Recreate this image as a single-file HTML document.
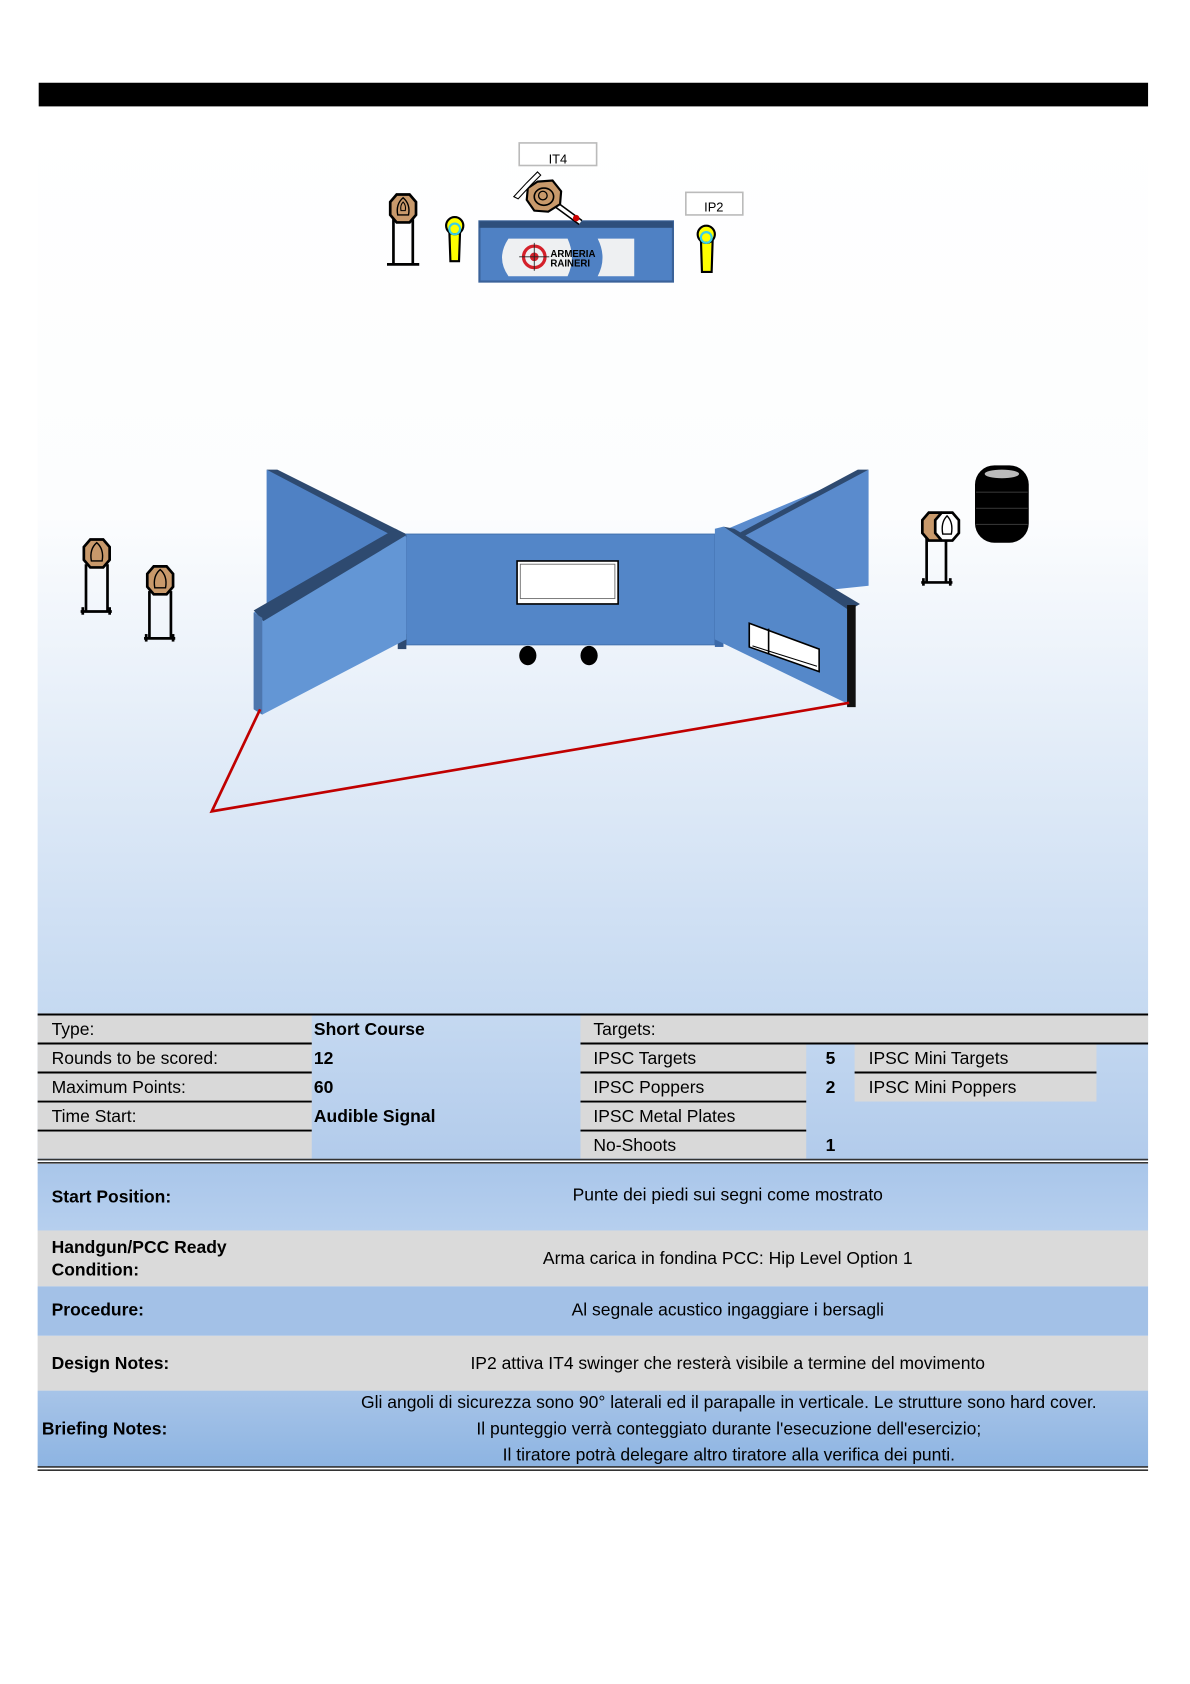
<!DOCTYPE html>
<html><head><meta charset="utf-8"><style>
html,body{margin:0;padding:0;background:#fff}
svg{display:block}
text{font-family:"Liberation Sans",Arial,sans-serif;fill:#000}
</style></head><body>
<svg width="1190" height="1684" viewBox="0 0 1107 1567" preserveAspectRatio="none" xmlns="http://www.w3.org/2000/svg">
<defs>
<linearGradient id="bg" x1="0" y1="0" x2="0" y2="1">
<stop offset="0" stop-color="#ffffff"/><stop offset="0.45" stop-color="#fcfdfe"/><stop offset="1" stop-color="#c5d9f1"/>
</linearGradient>
<linearGradient id="tb" x1="0" y1="0" x2="0" y2="1">
<stop offset="0" stop-color="#c5d9f1"/><stop offset="1" stop-color="#b2cbeb"/>
</linearGradient>
<linearGradient id="br" x1="0" y1="0" x2="0" y2="1">
<stop offset="0" stop-color="#a7c4e8"/><stop offset="1" stop-color="#8db4e2"/>
</linearGradient>
<linearGradient id="bl1" x1="0" y1="0" x2="0" y2="1">
<stop offset="0" stop-color="#a9c6ea"/><stop offset="1" stop-color="#b6cfee"/>
</linearGradient>
</defs>

<rect x="36" y="77" width="1032" height="22" fill="#000"/>

<rect x="35" y="100" width="1033" height="843" fill="url(#bg)"/>

<rect x="446" y="206" width="180" height="56" fill="#4f81c4" stroke="#3a6299" stroke-width="2"/>
<rect x="446" y="206" width="180" height="6" fill="#2e4f7c"/>
<path d="M473 222 H528 Q536 240 528 257 H473 Q461 240 473 222Z" fill="#eef0f2"/>
<path d="M556 222 H590 V257 H556 Q565 240 556 222Z" fill="#eef0f2"/>
<circle cx="497" cy="239" r="10" fill="none" stroke="#d4202a" stroke-width="3"/>
<circle cx="497" cy="239" r="4" fill="#d4202a"/>
<line x1="483" y1="239" x2="511" y2="239" stroke="#222" stroke-width="0.8"/>
<line x1="497" y1="226" x2="497" y2="252" stroke="#222" stroke-width="0.8"/>
<text x="512" y="239" font-size="9" font-weight="bold" fill="#333">ARMERIA</text>
<text x="512" y="248" font-size="9" font-weight="bold" fill="#333">RAINERI</text>

<rect x="483" y="133" width="72" height="21" fill="#fff" stroke="#bbb" stroke-width="1.5"/>
<text x="519" y="152" font-size="12" text-anchor="middle">IT4</text>
<line x1="510" y1="185" x2="540" y2="207" stroke="#000" stroke-width="6"/>
<line x1="510" y1="185" x2="540" y2="207" stroke="#fff" stroke-width="3"/>
<circle cx="536" cy="203" r="3" fill="#c00"/>
<polygon points="500,169 514,168 522,178 521,190 510,197 497,196 490,186 491,175" fill="#c8996b" stroke="#000" stroke-width="2"/>
<ellipse cx="506" cy="183" rx="9" ry="8" fill="none" stroke="#000" stroke-width="1.5"/>
<ellipse cx="505" cy="182" rx="4" ry="4" fill="none" stroke="#000" stroke-width="1.2"/>
<path d="M478 183 L490 170 L500 160 L503 163 L494 172 L482 185Z" fill="#fff" stroke="#000" stroke-width="1"/>

<rect x="638" y="179" width="53" height="21" fill="#fff" stroke="#bbb" stroke-width="1.5"/>
<text x="664" y="197" font-size="12" text-anchor="middle">IP2</text>

<g stroke="#000" stroke-width="2">
<path d="M418 215 L428 215 L427 243 L419 243Z" fill="#ffff00"/>
<circle cx="423" cy="210" r="8" fill="#ffff00"/>
<circle cx="423" cy="213" r="5" fill="none" stroke="#3ccfe8"/>
<path d="M652 222 L663 222 L662 253 L653 253Z" fill="#ffff00"/>
<circle cx="657" cy="218" r="8" fill="#ffff00"/>
<circle cx="657" cy="221" r="5" fill="none" stroke="#3ccfe8"/>
</g>

<g stroke="#000" stroke-width="2.5" fill="none">
<line x1="366" y1="204" x2="366" y2="246"/><line x1="384" y1="204" x2="384" y2="246"/>
<line x1="360" y1="246" x2="390" y2="246"/>
<polygon points="369,181 381,181 387,188 387,200 381,207 369,207 363,200 363,188" fill="#c8996b"/>
<path d="M370 200 Q368 190 375 184 Q382 190 380 200Z" stroke-width="1.3"/>
<path d="M373 196 Q372 191 375 188 Q378 191 377 196Z" stroke-width="1"/>
</g>

<g stroke="#000" stroke-width="2.5" fill="none">
<g transform="translate(90,515)">
<line x1="-10" y1="10" x2="-10" y2="54"/><line x1="10" y1="10" x2="10" y2="54"/>
<line x1="-15" y1="54" x2="14" y2="54"/><line x1="-13" y1="50" x2="-13" y2="57"/><line x1="12" y1="50" x2="12" y2="57"/>
<polygon points="-6,-13 6,-13 12,-6 12,6 6,13 -6,13 -12,6 -12,-6" fill="#c8996b"/>
<path d="M-5 7 Q-7 -4 0 -10 Q7 -4 5 7Z" stroke-width="1.3"/>
</g>
<g transform="translate(149,540)">
<line x1="-10" y1="10" x2="-10" y2="54"/><line x1="10" y1="10" x2="10" y2="54"/>
<line x1="-15" y1="54" x2="14" y2="54"/><line x1="-13" y1="50" x2="-13" y2="57"/><line x1="12" y1="50" x2="12" y2="57"/>
<polygon points="-6,-13 6,-13 12,-6 12,6 6,13 -6,13 -12,6 -12,-6" fill="#c8996b"/>
<path d="M-5 7 Q-7 -4 0 -10 Q7 -4 5 7Z" stroke-width="1.3"/>
</g>
<g transform="translate(872,490)">
<line x1="-10" y1="10" x2="-10" y2="52"/><line x1="8" y1="10" x2="8" y2="52"/>
<line x1="-15" y1="52" x2="14" y2="52"/><line x1="-13" y1="48" x2="-13" y2="55"/><line x1="12" y1="48" x2="12" y2="55"/>
<polygon points="-8,-13 3,-13 9,-6 9,6 3,13 -8,13 -14,6 -14,-6" fill="#c8996b"/>
<polygon points="4,-13 14,-13 20,-6 20,6 14,13 4,13 -2,6 -2,-6" fill="#fff"/>
<path d="M5 7 Q3 -4 9 -10 Q15 -4 13 7Z" stroke-width="1.3"/>
</g>
</g>

<rect x="907" y="433" width="50" height="72" rx="18" fill="#000"/>
<ellipse cx="932" cy="441" rx="16" ry="4" fill="#bbb"/>
<g stroke="#333" stroke-width="1"><line x1="908" y1="458" x2="956" y2="458"/><line x1="908" y1="473" x2="956" y2="473"/><line x1="908" y1="488" x2="956" y2="488"/></g>

<polygon points="248,437 378,497 378,560 248,620" fill="#4f81c4"/>
<polygon points="248,437 258,437 378,497 368,500" fill="#2e4a70"/>
<polygon points="808,437 665,497 665,560 808,545" fill="#5a8bcd"/>
<polygon points="798,437 808,437 690,500 680,500" fill="#2e4a70"/>
<rect x="378" y="497" width="287" height="103" fill="#5386c8" stroke="#4473b0" stroke-width="1"/>
<rect x="481" y="522" width="94" height="40" fill="#fff" stroke="#000" stroke-width="1.5"/>
<rect x="484" y="525" width="88" height="32" fill="#fff" stroke="#666" stroke-width="0.8"/>
<ellipse cx="491" cy="610" rx="8" ry="9" fill="#000"/>
<ellipse cx="548" cy="610" rx="8" ry="9" fill="#000"/>
<rect x="370" y="590" width="8" height="14" fill="#2e4a70"/>
<rect x="665" y="588" width="8" height="14" fill="#3c6aa8"/>
<polygon points="236,570 370,493 378,500 378,595 244,665 236,660" fill="#6396d5"/>
<polygon points="236,568 368,492 378,498 245,578" fill="#2e4a70"/>
<polygon points="236,570 244,575 244,665 236,660" fill="#4d76ad"/>
<polygon points="665,492 673,490 795,565 795,658 665,595" fill="#5588c9"/>
<polygon points="673,490 683,492 800,562 790,568" fill="#2e4a70"/>
<rect x="788" y="563" width="8" height="95" fill="#111"/>
<polygon points="697,580 762,604 762,625 697,602" fill="#fff" stroke="#000" stroke-width="1.5"/>
<line x1="715" y1="585" x2="715" y2="609" stroke="#000" stroke-width="1.5"/>
<line x1="700" y1="601" x2="760" y2="620" stroke="#000" stroke-width="1"/>

<polyline points="242,660 197,755 790,654" fill="none" stroke="#c00000" stroke-width="2.5"/>

<rect x="35" y="943" width="1033" height="137" fill="url(#tb)"/>
<g fill="#d9d9d9">
<rect x="35" y="943" width="255" height="135"/>
<rect x="540" y="943" width="528" height="28"/>
<rect x="540" y="971" width="210" height="107"/>
<rect x="795" y="971" width="225" height="54"/>
</g>
<g stroke="#000" stroke-width="1.8">
<line x1="35" y1="944" x2="1068" y2="944"/>
<line x1="35" y1="971" x2="290" y2="971"/>
<line x1="540" y1="971" x2="1068" y2="971"/>
<line x1="35" y1="998" x2="290" y2="998"/>
<line x1="540" y1="998" x2="750" y2="998"/>
<line x1="795" y1="998" x2="1020" y2="998"/>
<line x1="35" y1="1025" x2="290" y2="1025"/>
<line x1="540" y1="1025" x2="750" y2="1025"/>
<line x1="35" y1="1052" x2="290" y2="1052"/>
<line x1="540" y1="1052" x2="750" y2="1052"/>
</g>
<line x1="35" y1="1079" x2="1068" y2="1079" stroke="#333" stroke-width="1.5"/>
<line x1="35" y1="1082" x2="1068" y2="1082" stroke="#333" stroke-width="1.5"/>
<g font-size="16.3">
<text x="48" y="963">Type:</text>
<text x="48" y="990">Rounds to be scored:</text>
<text x="48" y="1017">Maximum Points:</text>
<text x="48" y="1044">Time Start:</text>
<text x="292" y="963" font-weight="bold">Short Course</text>
<text x="292" y="990" font-weight="bold">12</text>
<text x="292" y="1017" font-weight="bold">60</text>
<text x="292" y="1044" font-weight="bold">Audible Signal</text>
<text x="552" y="963">Targets:</text>
<text x="552" y="990">IPSC Targets</text>
<text x="552" y="1017">IPSC Poppers</text>
<text x="552" y="1044">IPSC Metal Plates</text>
<text x="552" y="1071">No-Shoots</text>
<text x="768" y="990" font-weight="bold">5</text>
<text x="768" y="1017" font-weight="bold">2</text>
<text x="768" y="1071" font-weight="bold">1</text>
<text x="808" y="990">IPSC Mini Targets</text>
<text x="808" y="1017">IPSC Mini Poppers</text>
</g>

<rect x="35" y="1083" width="1033" height="62" fill="url(#bl1)"/>
<rect x="35" y="1145" width="1033" height="52" fill="#dadada"/>
<rect x="35" y="1197" width="1033" height="46" fill="#a3c1e7"/>
<rect x="35" y="1243" width="1033" height="51" fill="#dadada"/>
<rect x="35" y="1294" width="1033" height="71" fill="url(#br)"/>
<line x1="35" y1="1365" x2="1068" y2="1365" stroke="#333" stroke-width="1.5"/>
<line x1="35" y1="1368" x2="1068" y2="1368" stroke="#333" stroke-width="1.5"/>
<g font-size="16.3">
<text x="48" y="1119" font-weight="bold">Start Position:</text>
<text x="677" y="1117" text-anchor="middle">Punte dei piedi sui segni come mostrato</text>
<text x="48" y="1166" font-weight="bold">Handgun/PCC Ready</text>
<text x="48" y="1187" font-weight="bold">Condition:</text>
<text x="677" y="1176" text-anchor="middle">Arma carica in fondina PCC: Hip Level Option 1</text>
<text x="48" y="1224" font-weight="bold">Procedure:</text>
<text x="677" y="1224" text-anchor="middle">Al segnale acustico ingaggiare i bersagli</text>
<text x="48" y="1274" font-weight="bold">Design Notes:</text>
<text x="677" y="1274" text-anchor="middle">IP2 attiva IT4 swinger che resterà visibile a termine del movimento</text>
<text x="39" y="1335" font-weight="bold">Briefing Notes:</text>
<text x="678" y="1310" text-anchor="middle">Gli angoli di sicurezza sono 90° laterali ed il parapalle in verticale. Le strutture sono hard cover.</text>
<text x="678" y="1335" text-anchor="middle">Il punteggio verrà conteggiato durante l'esecuzione dell'esercizio;</text>
<text x="678" y="1359" text-anchor="middle">Il tiratore potrà delegare altro tiratore alla verifica dei punti.</text>
</g>
</svg>
</body></html>
